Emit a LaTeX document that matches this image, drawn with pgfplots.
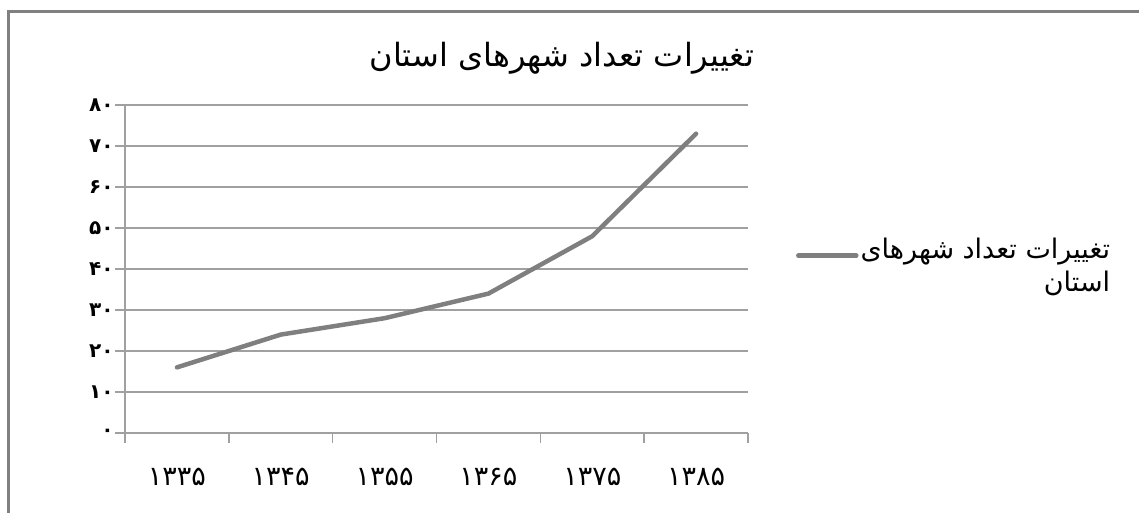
\documentclass[border=0pt]{standalone}
\usepackage{fontspec}
\usepackage{pgfplots}
\pgfplotsset{compat=1.18}
\TeXXeTstate=1
\newfontfamily\arabicfont[Script=Arabic]{DejaVu Sans}
\newfontfamily\arabicbold[Script=Arabic]{DejaVu Sans Bold}
\definecolor{gridgray}{HTML}{A0A0A0}
\definecolor{linegray}{HTML}{7F7F7F}
\definecolor{framegray}{HTML}{808080}
\begin{document}
\begin{tikzpicture}[x=1pt,y=1pt]
\path[use as bounding box] (0,0) rectangle (1139,513);
\draw[framegray, line width=3pt] (8,0) -- (8,501) -- (1139,501);
\node[font=\arabicfont\fontsize{32}{36}\selectfont] at (562,455) {\beginR تغییرات تعداد شهرهای استان\endR};
\begin{axis}[
  at={(125pt,80pt)}, anchor=south west,
  width=623pt, height=328pt, scale only axis,
  xmin=0, xmax=6, ymin=0, ymax=80,
  axis lines=left, axis line style={-, gridgray, line width=1.5pt},
  xtick={0,1,2,3,4,5,6}, xticklabels={},
  extra x ticks={0.5,1.5,2.5,3.5,4.5,5.5},
  extra x tick labels={۱۳۳۵,۱۳۴۵,۱۳۵۵,۱۳۶۵,۱۳۷۵,۱۳۸۵},
  extra x tick style={major tick length=0pt, grid=none,
     xticklabel style={font=\arabicfont\fontsize{27}{30}\selectfont, yshift=-32pt}},
  ytick={0,10,...,80},
  yticklabels={۰,۱۰,۲۰,۳۰,۴۰,۵۰,۶۰,۷۰,۸۰},
  yticklabel style={font=\arabicbold\fontsize{20}{22}\selectfont, xshift=2pt},
  tick align=outside, major tick length=10pt,
  tick style={gridgray, line width=1.5pt},
  ymajorgrids, grid style={gridgray, line width=1.5pt},
  legend style={at={(1.072,0.51)}, anchor=west, draw=none, fill=none,
     font=\arabicfont\fontsize{27}{33}\selectfont,
     nodes={align=right, inner xsep=2pt}},
  legend cell align=right,
  legend image code/.code={\draw[#1] (0pt,10pt) -- (58pt,10pt);},
]
\addplot[linegray, line width=4.5pt, line join=round, line cap=round] coordinates {
 (0.5,16) (1.5,24) (2.5,28) (3.5,34) (4.5,48) (5.5,73)
};
\addlegendentry{\beginR تغییرات تعداد شهرهای\endR\\\beginR استان\endR}
\end{axis}
\end{tikzpicture}
\end{document}
